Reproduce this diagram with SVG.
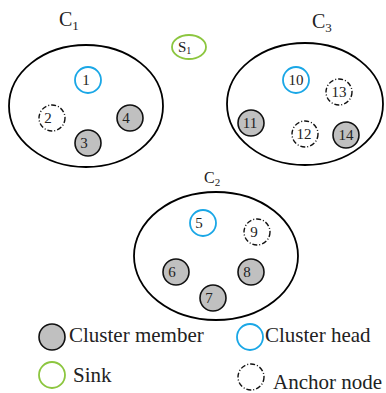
<svg xmlns="http://www.w3.org/2000/svg" width="386" height="393" viewBox="0 0 386 393" font-family="'Liberation Serif', 'Times New Roman', 'DejaVu Serif', serif">
<style>
text{fill:#222}
.cl{fill:none;stroke:#000;stroke-width:1.8}
.mem{fill:#c0c0c0;stroke:#111;stroke-width:1.6}
.head{fill:#fff;stroke:#1aa7e6;stroke-width:1.8}
.anc{fill:#fff;stroke:#111;stroke-width:1.4;stroke-dasharray:5 2 1 2}
.sink{fill:#fff;stroke:#8cc63f;stroke-width:1.8}
.n{font-size:15px;text-anchor:middle}
.lg{font-size:21px}
</style>
<rect width="386" height="393" fill="#fff"/>
<g id="cluster1">
<ellipse class="cl" cx="86" cy="106" rx="77" ry="61"/>
<text x="59" y="26" font-size="20">C<tspan font-size="13" dy="4">1</tspan></text>
</g>
<g id="cluster3">
<ellipse class="cl" cx="305" cy="104" rx="78" ry="61"/>
<text x="312" y="28" font-size="20">C<tspan font-size="13" dy="4">3</tspan></text>
</g>
<g id="cluster2">
<ellipse class="cl" cx="216" cy="256" rx="82" ry="64"/>
<text x="204" y="183" font-size="16">C<tspan font-size="11" dy="3">2</tspan></text>
</g>
<g id="sink">
<ellipse class="sink" cx="189" cy="47" rx="17" ry="12"/>
<text x="178" y="52" font-size="15">S<tspan font-size="10" dy="2">1</tspan></text>
</g>
<g id="n1"><circle class="head" cx="88" cy="80" r="13"/><text class="n" x="86" y="85">1</text></g>
<g id="n2"><circle class="anc" cx="52" cy="118" r="13"/><text class="n" x="48" y="123">2</text></g>
<g id="n3"><circle class="mem" cx="88" cy="143" r="13"/><text class="n" x="84" y="148">3</text></g>
<g id="n4"><circle class="mem" cx="130" cy="118" r="13"/><text class="n" x="126" y="123">4</text></g>
<g id="n5"><circle class="head" cx="203" cy="223" r="13"/><text class="n" x="199" y="228">5</text></g>
<g id="n6"><circle class="mem" cx="176" cy="272" r="13"/><text class="n" x="172" y="277">6</text></g>
<g id="n7"><circle class="mem" cx="213" cy="298" r="13"/><text class="n" x="209" y="303">7</text></g>
<g id="n8"><circle class="mem" cx="251" cy="272" r="13"/><text class="n" x="247" y="277">8</text></g>
<g id="n9"><circle class="anc" cx="257" cy="232" r="13"/><text class="n" x="254" y="237">9</text></g>
<g id="n10"><circle class="head" cx="296" cy="80" r="13"/><text class="n" x="296" y="85">10</text></g>
<g id="n11"><circle class="mem" cx="251" cy="123" r="13"/><text class="n" x="250" y="128">11</text></g>
<g id="n12"><circle class="anc" cx="305" cy="134" r="13"/><text class="n" x="304" y="139">12</text></g>
<g id="n13"><circle class="anc" cx="339" cy="92" r="13"/><text class="n" x="339" y="97">13</text></g>
<g id="n14"><circle class="mem" cx="346" cy="135" r="13"/><text class="n" x="346" y="140">14</text></g>
<g id="connectors"></g>
<g id="legend">
<circle class="mem" cx="52" cy="337" r="13"/><text class="lg" x="69" y="342">Cluster member</text>
<circle class="head" cx="250" cy="337" r="13"/><text class="lg" x="265" y="342">Cluster head</text>
<circle class="sink" cx="52" cy="375" r="13"/><text class="lg" x="73" y="382">Sink</text>
<circle class="anc" cx="251" cy="377" r="13"/><text class="lg" x="273" y="389">Anchor node</text>
</g>
</svg>
